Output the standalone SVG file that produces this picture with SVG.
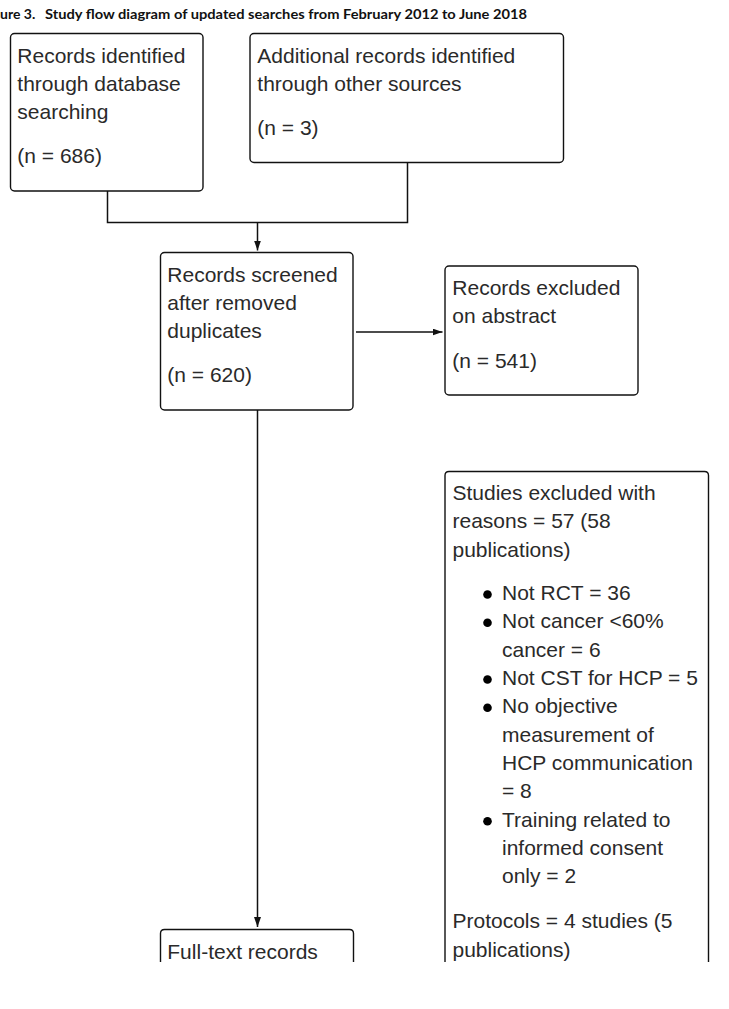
<svg xmlns="http://www.w3.org/2000/svg" width="729" height="1009" viewBox="0 0 729 1009">
<style>
.title{font-family:Lato,"Liberation Sans",sans-serif;font-weight:bold;font-size:14px;fill:#111}
.t{font-family:"Liberation Sans",Arial,sans-serif;font-size:21px;fill:#2a2a2a}
.box{fill:#fff;stroke:#111;stroke-width:1.4}
.con{fill:none;stroke:#111;stroke-width:1.5}
.bul{fill:#000}
</style>
<defs>
<marker id="ah" markerUnits="userSpaceOnUse" markerWidth="11" markerHeight="7" refX="10" refY="3.5" orient="auto">
<path d="M0,0 L10,3.5 L0,7 z" fill="#111"/>
</marker>
</defs>
<rect x="0" y="0" width="729" height="1009" fill="#fff"/>
<g id="title">
<text class="title" x="0" y="18.5">ure 3.</text>
<text class="title" x="45" y="18.5" textLength="482" lengthAdjust="spacingAndGlyphs">Study flow diagram of updated searches from February 2012 to June 2018</text>
</g>
<g id="connectors">
<path class="con" d="M107.5,191 V222.5 H407.5 V162.5"/>
<path class="con" d="M257.5,222.5 V250.5" marker-end="url(#ah)"/>
<path class="con" d="M356,332 H442.5" marker-end="url(#ah)"/>
<path class="con" d="M257.5,410 V927" marker-end="url(#ah)"/>
</g>
<g id="n1">
<rect class="box" x="10.5" y="33.5" width="192.5" height="157.5" rx="4"/>
<text class="t" x="17.3" y="63">Records identified</text>
<text class="t" x="17.3" y="91">through database</text>
<text class="t" x="17.3" y="119">searching</text>
<text class="t" x="17.3" y="163">(n = 686)</text>
</g>
<g id="n2">
<rect class="box" x="250" y="33.5" width="313.5" height="129" rx="4"/>
<text class="t" x="257.3" y="63">Additional records identified</text>
<text class="t" x="257.3" y="91">through other sources</text>
<text class="t" x="257.3" y="135">(n = 3)</text>
</g>
<g id="n3">
<rect class="box" x="160.5" y="252.5" width="192.5" height="157.5" rx="4"/>
<text class="t" x="167.3" y="282">Records screened</text>
<text class="t" x="167.3" y="310">after removed</text>
<text class="t" x="167.3" y="338">duplicates</text>
<text class="t" x="167.3" y="382">(n = 620)</text>
</g>
<g id="n4">
<rect class="box" x="445" y="266" width="193" height="129" rx="4"/>
<text class="t" x="452.3" y="295">Records excluded</text>
<text class="t" x="452.3" y="323.3">on abstract</text>
<text class="t" x="452.3" y="368.3">(n = 541)</text>
</g>
<g id="n5">
<path class="box" d="M160.5,962 V933.5 Q160.5,929.5 164.5,929.5 H349.5 Q353.5,929.5 353.5,933.5 V962"/>
<text class="t" x="167.3" y="958.6">Full-text records</text>
</g>
<g id="n6">
<path class="box" d="M445,962 V475.5 Q445,471.5 449,471.5 H704.5 Q708.5,471.5 708.5,475.5 V962"/>
<text class="t" x="452.5" y="500">Studies excluded with</text>
<text class="t" x="452.5" y="528.3">reasons = 57 (58</text>
<text class="t" x="452.5" y="556.7">publications)</text>
<circle class="bul" cx="487.5" cy="594.5" r="4.3"/>
<text class="t" x="502" y="600">Not RCT = 36</text>
<circle class="bul" cx="487.5" cy="622.8" r="4.3"/>
<text class="t" x="502" y="628.3">Not cancer &lt;60%</text>
<text class="t" x="502" y="656.7">cancer = 6</text>
<circle class="bul" cx="487.5" cy="679.5" r="4.3"/>
<text class="t" x="502" y="685">Not CST for HCP = 5</text>
<circle class="bul" cx="487.5" cy="707.8" r="4.3"/>
<text class="t" x="502" y="713.3">No objective</text>
<text class="t" x="502" y="741.7">measurement of</text>
<text class="t" x="502" y="770">HCP communication</text>
<text class="t" x="502" y="798.3">= 8</text>
<circle class="bul" cx="487.5" cy="821.2" r="4.3"/>
<text class="t" x="502" y="826.7">Training related to</text>
<text class="t" x="502" y="855">informed consent</text>
<text class="t" x="502" y="883.3">only = 2</text>
<text class="t" x="452.5" y="928.3">Protocols = 4 studies (5</text>
<text class="t" x="452.5" y="956.7">publications)</text>
</g>
</svg>
